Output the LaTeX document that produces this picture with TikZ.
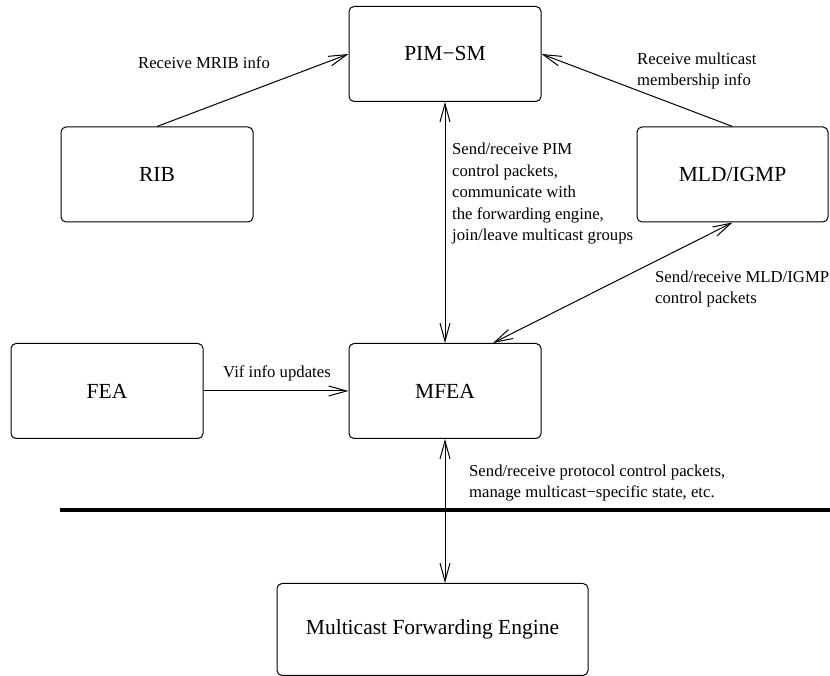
\documentclass[tikz,border=0pt]{standalone}
\usepackage{fontspec}
\setmainfont{Liberation Serif}
\usetikzlibrary{arrows.meta,positioning}

\begin{document}
\begin{tikzpicture}[x=1pt, y=1pt, node distance=144pt,
    box/.style={rectangle, draw, rounded corners=5pt, line width=1pt, minimum width=192pt, minimum height=95pt, inner sep=0pt, font=\fontsize{21.5}{26}\selectfont},
    lbl/.style={inner sep=0pt, align=left, font=\fontsize{16.7}{21.5}\selectfont},
    arrow/.style={-{Straight Barb[length=18pt, width=10pt]}, line width=1pt},
    biarrow/.style={{Straight Barb[length=18pt, width=10pt]}-{Straight Barb[length=18pt, width=10pt]}, line width=1pt}]
    \useasboundingbox (0,0) rectangle (830,676);

    \node[box] (mfea) at (445,285) {MFEA};
    \node[box, above=241pt of mfea] (pim) {PIM−SM};
    \node[box, left=145pt of mfea] (fea) {FEA};
    \node[box] (rib) at (157,501.5) {RIB};
    \node[box, minimum width=191pt] (mld) at (732.5,501.5) {MLD/IGMP};
    \node[box, minimum width=311pt, minimum height=92pt, below=of mfea, xshift=-12.5pt] (mfe) {Multicast Forwarding Engine};

    % separator between user space and kernel
    \draw[line width=3.5pt] (60,166) -- (830,166);

    \draw[arrow] (rib.north) -- (pim.west);
    \draw[arrow] (mld.north) -- (pim.east);
    \draw[biarrow] (pim.south) -- (mfea.north);
    \draw[biarrow] (mld.south) -- ([xshift=48pt]mfea.north);
    \draw[arrow] (fea.east) -- (mfea.west);
    \draw[biarrow] (mfea.south) -- (mfea.south |- mfe.north);

    \node[lbl] (lrib) at (204,613) {Receive MRIB info};
    \node[lbl, anchor=west] (lmld) at (637,605) {Receive multicast\\membership info};
    \node[lbl, anchor=west] (lpim) at (452,482) {Send/receive PIM\\control packets,\\communicate with\\the forwarding engine,\\join/leave multicast groups};
    \node[lbl, anchor=west] (ligmp) at (655,387) {Send/receive MLD/IGMP\\control packets};
    \node[lbl] (lvif) at (277,303) {Vif info updates};
    \node[lbl, anchor=west] (lmfe) at (469,193) {Send/receive protocol control packets,\\manage multicast−specific state, etc.};
\end{tikzpicture}
\end{document}
